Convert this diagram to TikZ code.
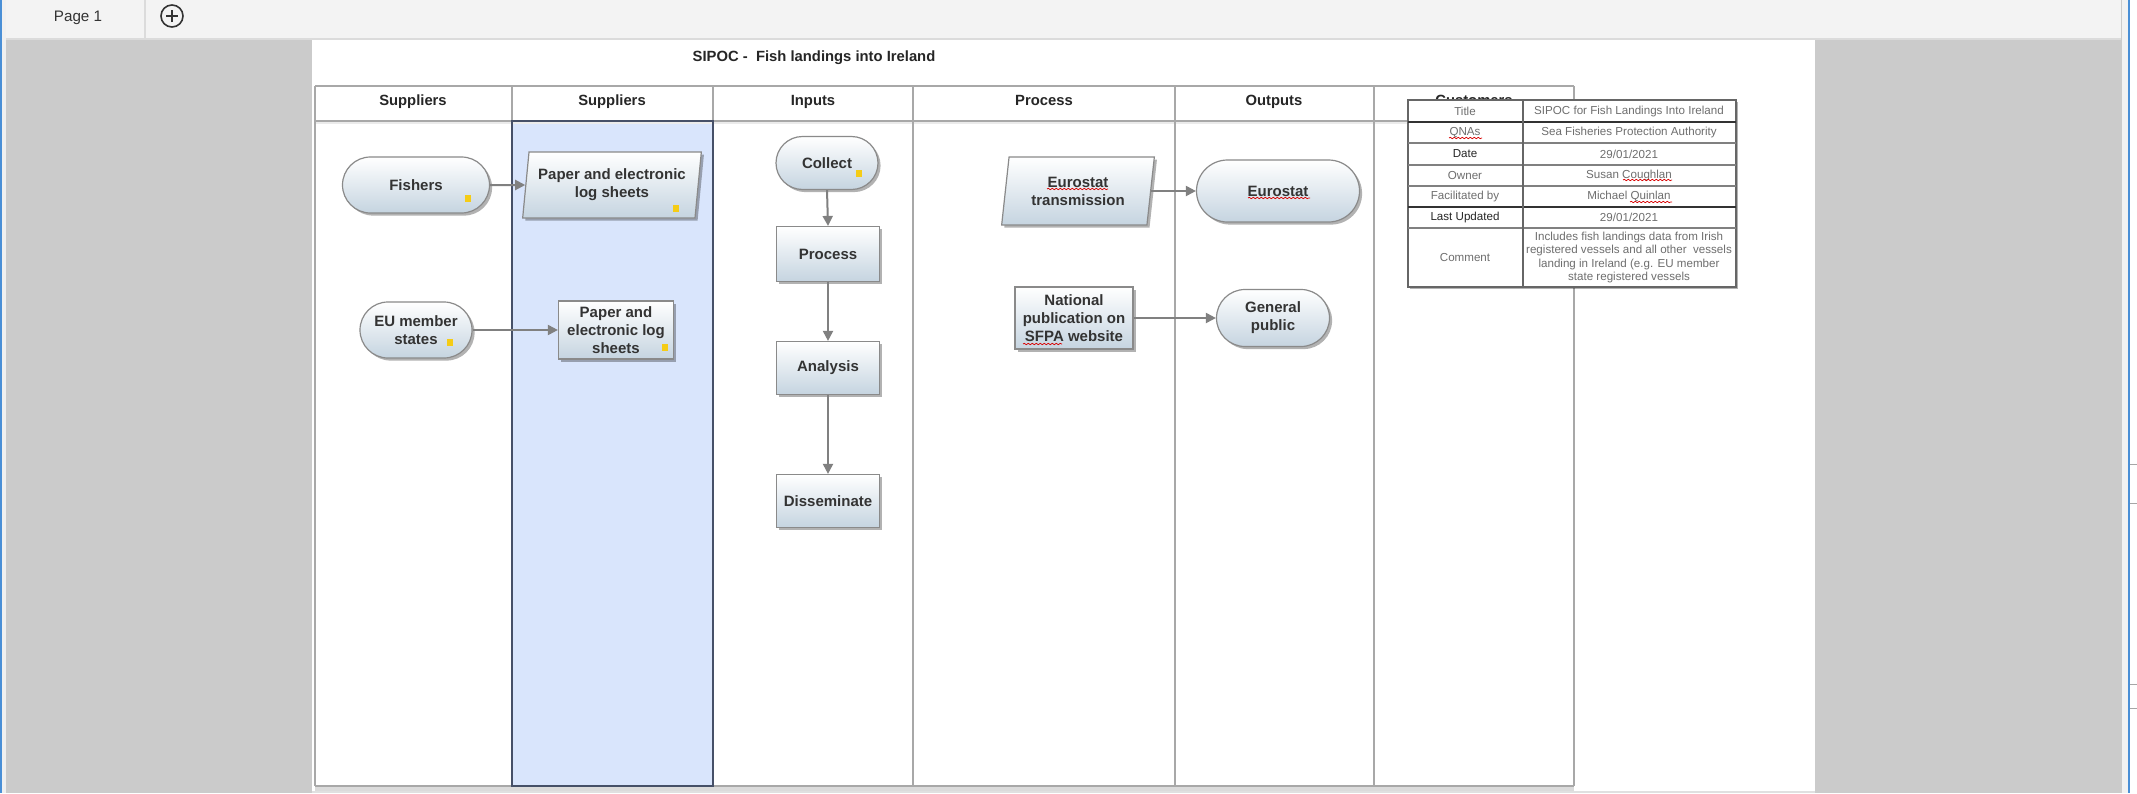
\documentclass[tikz,border=0pt]{standalone}
\usepackage{fontspec}
\setmainfont{Liberation Sans}
\usetikzlibrary{shapes.geometric,shapes.misc,arrows.meta,shadows,decorations.pathmorphing}
\definecolor{tabbg}{HTML}{F3F3F3}
\definecolor{canvas}{HTML}{CBCBCB}
\definecolor{lanefill}{HTML}{D9E5FC}
\definecolor{laneborder}{HTML}{465068}
\definecolor{gridline}{HTML}{A8A8A8}
\definecolor{nodeline}{HTML}{8A8A8A}
\definecolor{nodebot}{HTML}{C5D4E0}
\definecolor{nodetext}{HTML}{333333}
\definecolor{arrowgray}{HTML}{808080}
\definecolor{infotext}{HTML}{6E6E6E}
\definecolor{marker}{HTML}{F5CC16}
\definecolor{winblue}{HTML}{4A8FD6}
\begin{document}
\begin{tikzpicture}[x=0.5pt,y=-0.5pt,
  wh/.style 2 args={minimum width=#1*0.5pt, minimum height=#2*0.5pt},
  base/.style={draw=nodeline, line width=0.6pt, top color=white, bottom color=nodebot,
     drop shadow={shadow xshift=1.3pt, shadow yshift=-1.3pt, opacity=0.3, fill=black},
     font=\fontsize{7.5}{9}\selectfont\bfseries, text=nodetext, align=center, inner sep=0pt},
  term/.style={base, rounded rectangle},
  proc/.style={base, rectangle},
  datab/.style={base, trapezium, trapezium left angle=80, trapezium right angle=100, trapezium stretches=true},
  arr/.style={draw=arrowgray, line width=1pt, -{Triangle[length=5pt,width=5pt]}},
  hdr/.style={font=\fontsize{7.4}{9}\selectfont\bfseries, text=black!85, inner sep=0pt, anchor=base},
  infot/.style={font=\fontsize{5.8}{6.6}\selectfont, text=infotext, inner sep=0pt, align=center},
  squig/.style={draw=red!85!black, line width=0.35pt, decorate, decoration={snake, amplitude=0.35pt, segment length=2pt}},
  mk/.style={fill=marker}
]
\useasboundingbox (0,0) rectangle (2137,793);
% window background
\fill[canvas] (0,0) rectangle (2137,793);
\fill[white!94!black] (0,0) rectangle (6,793);
\fill[winblue] (0,0) rectangle (1.7,793);
\fill[black!5] (2122,0) rectangle (2128,793);
\fill[winblue] (2128,0) rectangle (2130,793);
\fill[white] (2130,0) rectangle (2137,793);
\foreach \yy in {464,503,684,708} \draw[black!35,line width=0.5pt] (2130,\yy) -- (2137,\yy);
% tab bar
\fill[tabbg] (6,0) rectangle (2121,39);
\draw[black!14,line width=0.6pt] (6,39) -- (2121,39);
\draw[black!14,line width=0.6pt] (145,0) -- (145,39);
\node[font=\fontsize{7.6}{9}\selectfont, text=black!80, inner sep=0pt] (pagetab) at (78,18) {Page 1};
\node[circle, draw=black!80, line width=0.8pt, minimum size=11pt, inner sep=0pt] (plus) at (172,16) {};
\draw[black!80, line width=1.1pt] ([xshift=-3pt]plus.center) -- ([xshift=3pt]plus.center);
\draw[black!80, line width=1.1pt] ([yshift=-3pt]plus.center) -- ([yshift=3pt]plus.center);
% page
\fill[white] (312,40) rectangle (1815,793);
\draw[black!12, line width=0.6pt] (312,792) -- (1815,792);
\node[hdr] (title) at (814,61) {SIPOC -\ \ Fish landings into Ireland};
% lanes
\fill[lanefill] (512,121) rectangle (713,786);
\fill[black!14] (315,786) rectangle (1574,791);
\fill[black!8] (315,121) rectangle (1574,124);
\draw[gridline, line width=0.8pt] (315,86) -- (1574,86);
\draw[gridline, line width=1.2pt] (315,121) -- (1574,121);
\foreach \xx in {315,713,913,1175,1374,1574} \draw[gridline, line width=0.8pt] (\xx,86) -- (\xx,786);
\draw[gridline, line width=0.8pt] (512,86) -- (512,121);
\draw[gridline, line width=0.8pt] (315,786) -- (1574,786);
\draw[laneborder, line width=0.8pt] (512,121) rectangle (713,786);
\node[hdr] (h1) at (413,105) {Suppliers};
\node[hdr] (h2) at (612,105) {Suppliers};
\node[hdr] (h3) at (813,105) {Inputs};
\node[hdr] (h4) at (1044,105) {Process};
\node[hdr] (h5) at (1274,105) {Outputs};
\node[hdr] (h6) at (1474,105) {Customers};
% nodes
\node[term, wh={147}{56}] (fishers) at (416,185) {Fishers};
\node[datab, wh={180}{66}] (pls1) at (612,185) {Paper and electronic\\log sheets};
\node[term, wh={112}{56}] (eu) at (416,330) {EU member\\states};
\node[proc, wh={115}{58}] (pls2) at (616,330) {Paper and\\electronic log\\sheets};
\node[term, wh={102}{53}] (collect) at (827,163) {Collect};
\node[proc, wh={103}{55}] (process) at (828,254) {Process};
\node[proc, wh={103}{53}] (analysis) at (828,368) {Analysis};
\node[proc, wh={103}{53}] (dissem) at (828,501) {Disseminate};
\node[datab, wh={153}{68}] (eut) at (1078,191) {Eurostat\\transmission};
\node[term, wh={163}{62}] (eurostat) at (1278,191) {Eurostat};
\node[proc, wh={118}{62}] (natpub) at (1074,318) {National\\publication on\\SFPA website};
\node[term, wh={113}{57}] (genpub) at (1273,318) {General\\public};
% markers
\fill[mk] (465,195) rectangle (471,202);
\fill[mk] (673,205) rectangle (679,212);
\fill[mk] (447,339) rectangle (453,346);
\fill[mk] (662,344) rectangle (668,351);
\fill[mk] (856,170) rectangle (862,177);
% connectors
\draw[arr] (fishers.east) -- (pls1.west);
\draw[arr] (eu.east) -- (pls2.west);
\draw[arr] (collect.south) -- (process.north);
\draw[arr] (process.south) -- (analysis.north);
\draw[arr] (analysis.south) -- (dissem.north);
\draw[arr] (eut.east) -- (eurostat.west);
\draw[arr] (natpub.east) -- (genpub.west);
% spell-check squiggles
\draw[squig] (1047,189) -- (1108,189);
\draw[squig] (1248,198) -- (1310,198);
\draw[squig] (1023,344) -- (1062,344);
% info table
\node[draw=black!60, line width=0.6pt, fill=white, wh={328}{187}, inner sep=0pt,
      drop shadow={shadow xshift=1.2pt, shadow yshift=-1.2pt, opacity=0.3, fill=black}] (info) at (1572,193.5) {};
\foreach \yy in {143,165,186,228} \draw[black!50, line width=0.6pt] (1408,\yy) -- (1736,\yy);
\draw[black!80, line width=1.1pt] (1408,122) -- (1736,122);
\draw[black!80, line width=1.1pt] (1408,207) -- (1736,207);
\draw[black!60, line width=0.7pt] (1523,100) -- (1523,287);
\node[infot] (l1) at (1465,111) {Title};
\node[infot] (v1) at (1629,111) {SIPOC for Fish Landings Into Ireland};
\node[infot] (l2) at (1465,132.5) {QNAs};
\node[infot] (v2) at (1629,132.5) {Sea Fisheries Protection Authority};
\node[infot, text=black!85] (l3) at (1465,154) {Date};
\node[infot] (v3) at (1629,154) {29/01/2021};
\node[infot] (l4) at (1465,175.5) {Owner};
\node[infot] (v4) at (1629,175.5) {Susan Coughlan};
\node[infot] (l5) at (1465,196.5) {Facilitated by};
\node[infot] (v5) at (1629,196.5) {Michael Quinlan};
\node[infot, text=black!85] (l6) at (1465,217.5) {Last Updated};
\node[infot] (v6) at (1629,217.5) {29/01/2021};
\node[infot] (l7) at (1465,257.5) {Comment};
\node[infot] (v7) at (1629,257.5) {Includes fish landings data from Irish\\registered vessels and all other\ \ vessels\\landing in Ireland (e.g. EU member\\state registered vessels};
\draw[squig] (1449,138) -- (1482,138);
\draw[squig] (1623,180) -- (1672,180);
\draw[squig] (1630,202) -- (1672,202);
\end{tikzpicture}
\end{document}
